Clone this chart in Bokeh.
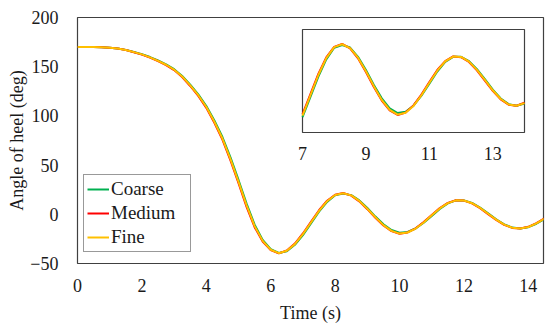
from bokeh.plotting import figure
from bokeh.models import Range1d, Legend, LegendItem
from bokeh.core.properties import value
from bokeh.embed import file_html
from bokeh.resources import INLINE

# ---------------- data ----------------
time = [0.00, 0.25, 0.50, 0.75, 1.00, 1.25, 1.50, 1.75, 2.00, 2.25, 2.50, 2.75,
        3.00, 3.25, 3.50, 3.75, 4.00, 4.25, 4.50, 4.75, 5.00, 5.25, 5.50, 5.75,
        6.00, 6.25, 6.50, 6.75, 7.00, 7.25, 7.50, 7.75, 8.00, 8.25, 8.50, 8.75,
        9.00, 9.25, 9.50, 9.75, 10.00, 10.25, 10.50, 10.75, 11.00, 11.25, 11.50,
        11.75, 12.00, 12.25, 12.50, 12.75, 13.00, 13.25, 13.50, 13.75, 14.00,
        14.25, 14.50]

coarse = [170.0, 170.0, 169.9, 169.7, 169.3, 168.6, 167.1, 165.0, 162.7, 159.8,
          156.3, 152.4, 147.5, 140.6, 131.8, 121.9, 110.1, 95.3, 78.5, 57.8,
          34.9, 10.8, -10.6, -26.0, -35.5, -39.3, -37.5, -31.0, -21.1, -9.2,
          2.6, 12.6, 19.4, 21.0, 19.5, 14.1, 6.4, -2.3, -10.1, -15.9, -18.7,
          -17.9, -14.4, -8.5, -1.6, 5.5, 11.1, 14.1, 14.1, 11.6, 6.9, 1.1,
          -5.0, -10.2, -13.5, -14.4, -13.1, -9.6, -4.8]

medium = [170.0, 170.0, 169.9, 169.7, 169.3, 168.4, 166.9, 164.7, 162.3, 159.3,
          155.8, 151.7, 146.6, 139.5, 130.4, 120.3, 108.2, 93.0, 75.9, 54.7,
          31.6, 7.6, -13.1, -27.7, -36.4, -39.7, -36.8, -29.8, -19.5, -7.6,
          4.1, 13.8, 19.9, 21.6, 19.0, 13.2, 5.2, -3.5, -11.4, -17.1, -19.8,
          -18.4, -14.2, -7.9, -0.6, 6.4, 11.6, 14.3, 13.9, 11.1, 6.2, 0.2,
          -5.7, -10.7, -13.8, -14.4, -12.7, -9.0, -4.1]

fine = [170.0, 170.0, 169.9, 169.7, 169.3, 168.5, 167.0, 164.8, 162.5, 159.5,
        156.0, 152.0, 147.0, 140.0, 131.0, 121.0, 109.0, 94.0, 77.0, 56.0,
        33.0, 9.0, -12.0, -27.0, -36.0, -39.5, -37.1, -30.3, -20.2, -8.3,
        3.5, 13.3, 19.7, 21.4, 19.2, 13.6, 5.7, -3.0, -11.0, -16.8, -19.6,
        -18.5, -14.5, -8.3, -1.0, 6.0, 11.4, 14.2, 14.0, 11.3, 6.5, 0.6,
        -5.4, -10.5, -13.7, -14.4, -12.9, -9.3, -4.4]

series_names = ["Coarse", "Medium", "Fine"]
series_colors = ["#00B050", "#FF0000", "#FFC000"]

x_ticks = [0, 2, 4, 6, 8, 10, 12, 14]
y_ticks = [-50, 0, 50, 100, 150, 200]
inset_ticks = [7, 9, 11, 13]

x_title = "Time (s)"
y_title = "Angle of heel (deg)"

# ---------------- layout ----------------
FONT = "Liberation Serif"
TXT = "#1a1a1a"
W, H = 548, 328
FRAME_L, FRAME_T, FRAME_R, FRAME_B = 77, 17, 5, 65
FRAME_W = W - FRAME_L - FRAME_R
FRAME_H = H - FRAME_T - FRAME_B
X0, X1 = 0, 14.47
Y0, Y1 = -50, 200

# inset box in frame pixels (relative to frame left / top)
IN_L, IN_R, IN_T, IN_B = 225, 447, 12, 115
IX0, IX1, IY0, IY1 = 7, 14, -30, 30

sx = (IN_R - IN_L) / (IX1 - IX0)
ex_start = IX0 - IN_L / sx
ex_end = IX1 + (FRAME_W - IN_R) / sx
sy = (IN_B - IN_T) / (IY1 - IY0)
ey_end = IY1 + IN_T / sy
ey_start = IY0 - (FRAME_H - IN_B) / sy

p = figure(width=W, height=H,
           x_range=Range1d(X0, X1), y_range=Range1d(Y0, Y1),
           output_backend="svg", toolbar_location=None,
           min_border_left=FRAME_L, min_border_top=FRAME_T,
           min_border_right=FRAME_R, min_border_bottom=FRAME_B,
           background_fill_color="white", border_fill_color="white")
p.extra_x_ranges = {"ix": Range1d(ex_start, ex_end)}
p.extra_y_ranges = {"iy": Range1d(ey_start, ey_end)}

p.outline_line_color = "#404040"
p.outline_line_width = 1.2
p.xgrid.grid_line_color = None
p.ygrid.grid_line_color = None

for ax in (p.xaxis[0], p.yaxis[0]):
    ax.axis_line_color = None
    ax.major_tick_line_color = None
    ax.minor_tick_line_color = None
    ax.major_tick_out = 0
    ax.major_tick_in = 0
    ax.minor_tick_out = 0
    ax.minor_tick_in = 0
    ax.major_label_text_font = FONT
    ax.major_label_text_font_size = "18px"
    ax.major_label_text_color = TXT
    ax.axis_label_text_font = FONT
    ax.axis_label_text_font_size = "18px"
    ax.axis_label_text_font_style = "normal"
    ax.axis_label_text_color = TXT

p.xaxis.ticker = x_ticks
p.yaxis.ticker = y_ticks
p.yaxis.major_label_overrides = {-50: "\u221250"}
p.xaxis.axis_label = x_title
p.yaxis.axis_label = y_title
p.xaxis.major_label_standoff = 15
p.xaxis.axis_label_standoff = 8
p.yaxis.major_label_standoff = 19
p.yaxis.axis_label_standoff = 0

# main curves
all_series = [coarse, medium, fine]
renderers = []
for vals, col in zip(all_series, series_colors):
    r = p.line(time, vals, line_color=col, line_width=2)
    renderers.append(r)

# inset
p.quad(left=[IX0], right=[IX1], bottom=[IY0], top=[IY1],
       fill_color="white", line_color="#404040", line_width=1.2,
       x_range_name="ix", y_range_name="iy")
for vals, col in zip(all_series, series_colors):
    ti = [t for t in time if IX0 <= t <= IX1]
    vi = [v for t, v in zip(time, vals) if IX0 <= t <= IX1]
    p.line(ti, vi, line_color=col, line_width=2,
           x_range_name="ix", y_range_name="iy")
p.text(x=inset_ticks, y=[IY0] * len(inset_ticks),
       text=[str(t) for t in inset_ticks],
       x_range_name="ix", y_range_name="iy",
       text_font=value(FONT), text_font_size="18px", text_color=TXT,
       text_align="center", text_baseline="middle", y_offset=21)

legend = Legend(items=[LegendItem(label=n, renderers=[r])
                       for n, r in zip(series_names, renderers)],
                location=(6, 11))
legend.label_text_font = FONT
legend.label_text_font_size = "19px"
legend.label_text_color = TXT
legend.border_line_color = "#333333"
legend.border_line_width = 1.2
legend.padding = 3
legend.spacing = 2
legend.margin = 0
legend.glyph_width = 22
legend.glyph_height = 20
legend.label_height = 20
legend.label_width = 76
legend.label_standoff = 2
legend.background_fill_alpha = 1
p.add_layout(legend)

open("out.html", "w").write(file_html(p, INLINE))
